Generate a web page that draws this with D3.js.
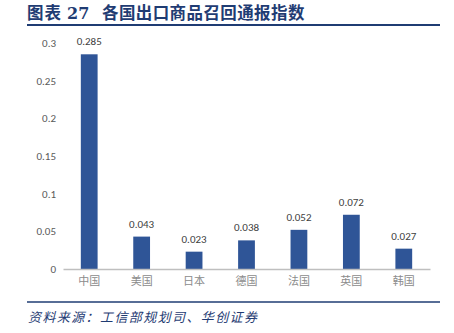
<!DOCTYPE html>
<html>
<head>
<meta charset="utf-8">
<script src="https://cdn.jsdelivr.net/npm/d3@7/dist/d3.min.js"></script>
<style>
  html, body { margin: 0; padding: 0; background: #fff; }
  svg { display: block; }
</style>
</head>
<body>
<svg id="chart" width="454" height="333"></svg>
<script>
// Recall notification index of export goods by country
const categories = ["中国", "美国", "日本", "德国", "法国", "英国", "韩国"];
const values = [0.285, 0.043, 0.023, 0.038, 0.052, 0.072, 0.027];
const yTicks = [0, 0.05, 0.1, 0.15, 0.2, 0.25, 0.3];
const yTickLabels = ["0", "0.05", "0.1", "0.15", "0.2", "0.25", "0.3"];

const svg = d3.select("#chart");
const cjk = "'Noto Sans CJK SC', 'Noto Sans', sans-serif";
const latin = "Calibri, 'Liberation Sans', 'Noto Sans', sans-serif";
const navy = "#1F3C73";

// Title: figure number and caption
const title = svg.append("g")
  .attr("font-family", cjk).attr("font-weight", "bold")
  .attr("font-size", 16.5).attr("fill", navy);
title.append("text").attr("x", 27).attr("y", 19).attr("letter-spacing", 1).text("图表");
title.append("text").attr("x", 67).attr("y", 19).attr("font-family", "'DejaVu Serif', serif").attr("font-size", 16).text("27");
title.append("text").attr("x", 102).attr("y", 19).attr("letter-spacing", 0.4).text("各国出口商品召回通报指数");

svg.append("line")
  .attr("x1", 27).attr("x2", 440).attr("y1", 25).attr("y2", 25)
  .attr("stroke", navy).attr("stroke-width", 2);

// Scales
const x = d3.scaleBand().domain(categories).range([63, 430]).paddingInner(0.68).paddingOuter(0.34);
const y = d3.scaleLinear().domain([0, 0.3]).range([269, 43]);

// Y axis labels
const yAxis = d3.axisLeft(y).tickValues(yTicks)
  .tickFormat((d, i) => yTickLabels[i]).tickSize(0).tickPadding(0);
const gy = svg.append("g").attr("transform", "translate(56,0)").call(yAxis);
gy.select(".domain").remove();
gy.selectAll("text").attr("font-family", latin).attr("font-size", 11).attr("fill", "#595959");

// Bars
svg.append("g").selectAll("rect").data(values).join("rect")
  .attr("x", (d, i) => x(categories[i]))
  .attr("width", x.bandwidth())
  .attr("y", d => y(d))
  .attr("height", d => y(0) - y(d))
  .attr("fill", "#2F5597");

// Value labels
svg.append("g").selectAll("text").data(values).join("text")
  .attr("x", (d, i) => x(categories[i]) + x.bandwidth() / 2)
  .attr("y", d => y(d) - 9)
  .attr("text-anchor", "middle")
  .attr("font-family", latin).attr("font-size", 11).attr("fill", "#404040")
  .text(d => d3.format(".3f")(d));

// X axis
const xAxis = d3.axisBottom(x).tickSize(0).tickPadding(8);
const gx = svg.append("g").attr("transform", "translate(0,269)").call(xAxis);
gx.select(".domain").attr("stroke", "#BFBFBF").attr("stroke-width", 1.5);
gx.selectAll("text").attr("font-family", cjk).attr("font-size", 11).attr("fill", "#8C8C8C");

// Source
svg.append("line")
  .attr("x1", 27).attr("x2", 440).attr("y1", 302).attr("y2", 302)
  .attr("stroke", navy).attr("stroke-width", 1.5);

svg.append("text")
  .attr("x", 28).attr("y", 322)
  .attr("font-family", cjk).attr("font-style", "italic")
  .attr("font-size", 13).attr("letter-spacing", 1.4).attr("fill", navy)
  .text("资料来源：工信部规划司、华创证券");
</script>
</body>
</html>
